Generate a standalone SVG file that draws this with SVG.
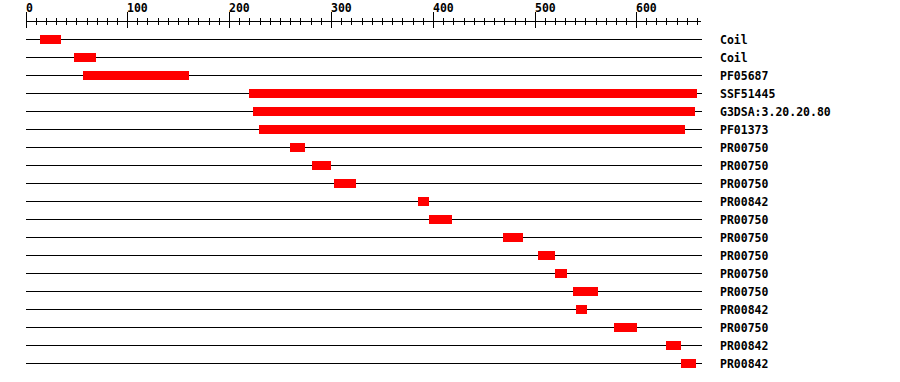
<svg xmlns="http://www.w3.org/2000/svg" width="900" height="382" viewBox="0 0 900 382">
<style>
.ax{stroke:#000;stroke-width:1;fill:none;shape-rendering:crispEdges}
.tr{stroke:#000;stroke-width:1;shape-rendering:crispEdges}
.bar{fill:#ff0000;shape-rendering:crispEdges}
.t{font-family:"DejaVu Sans Mono","Liberation Mono",monospace;font-weight:bold;font-size:11.5px;fill:#000}
</style>
<rect width="900" height="382" fill="#fff"/>
<g id="axis">
<line class="ax" x1="26" y1="21.5" x2="701" y2="21.5"/>
<path class="ax" d="M26.5 12V28M127.5 12V28M229.5 12V28M331.5 12V28M433.5 12V28M535.5 12V28M636.5 12V28"/>
<path class="ax" d="M36.5 18V25M46.5 18V25M56.5 18V25M66.5 18V25M76.5 18V25M87.5 18V25M97.5 18V25M107.5 18V25M117.5 18V25M137.5 18V25M147.5 18V25M158.5 18V25M168.5 18V25M178.5 18V25M188.5 18V25M198.5 18V25M209.5 18V25M219.5 18V25M239.5 18V25M249.5 18V25M260.5 18V25M270.5 18V25M280.5 18V25M290.5 18V25M300.5 18V25M311.5 18V25M321.5 18V25M341.5 18V25M351.5 18V25M362.5 18V25M372.5 18V25M382.5 18V25M392.5 18V25M402.5 18V25M413.5 18V25M423.5 18V25M443.5 18V25M453.5 18V25M464.5 18V25M474.5 18V25M484.5 18V25M494.5 18V25M504.5 18V25M515.5 18V25M525.5 18V25M545.5 18V25M555.5 18V25M565.5 18V25M575.5 18V25M585.5 18V25M596.5 18V25M606.5 18V25M616.5 18V25M626.5 18V25M646.5 18V25M656.5 18V25M666.5 18V25M677.5 18V25M687.5 18V25M697.5 18V25"/>
<text class="t" x="26" y="12">0</text>
<text class="t" x="127" y="12">100</text>
<text class="t" x="229" y="12">200</text>
<text class="t" x="331" y="12">300</text>
<text class="t" x="433" y="12">400</text>
<text class="t" x="535" y="12">500</text>
<text class="t" x="636" y="12">600</text>
</g>
<g id="connectors">
<line class="tr" x1="26" y1="39.5" x2="702" y2="39.5"/>
<line class="tr" x1="26" y1="57.5" x2="702" y2="57.5"/>
<line class="tr" x1="26" y1="75.5" x2="702" y2="75.5"/>
<line class="tr" x1="26" y1="93.5" x2="702" y2="93.5"/>
<line class="tr" x1="26" y1="111.5" x2="702" y2="111.5"/>
<line class="tr" x1="26" y1="129.5" x2="702" y2="129.5"/>
<line class="tr" x1="26" y1="147.5" x2="702" y2="147.5"/>
<line class="tr" x1="26" y1="165.5" x2="702" y2="165.5"/>
<line class="tr" x1="26" y1="183.5" x2="702" y2="183.5"/>
<line class="tr" x1="26" y1="201.5" x2="702" y2="201.5"/>
<line class="tr" x1="26" y1="219.5" x2="702" y2="219.5"/>
<line class="tr" x1="26" y1="237.5" x2="702" y2="237.5"/>
<line class="tr" x1="26" y1="255.5" x2="702" y2="255.5"/>
<line class="tr" x1="26" y1="273.5" x2="702" y2="273.5"/>
<line class="tr" x1="26" y1="291.5" x2="702" y2="291.5"/>
<line class="tr" x1="26" y1="309.5" x2="702" y2="309.5"/>
<line class="tr" x1="26" y1="327.5" x2="702" y2="327.5"/>
<line class="tr" x1="26" y1="345.5" x2="702" y2="345.5"/>
<line class="tr" x1="26" y1="363.5" x2="702" y2="363.5"/>
</g>
<g id="row0"><rect class="bar" x="40" y="35" width="21" height="9"/><text class="t" x="720" y="43.5">Coil</text></g>
<g id="row1"><rect class="bar" x="74" y="53" width="22" height="9"/><text class="t" x="720" y="61.5">Coil</text></g>
<g id="row2"><rect class="bar" x="83" y="71" width="106" height="9"/><text class="t" x="720" y="79.5">PF05687</text></g>
<g id="row3"><rect class="bar" x="249" y="89" width="448" height="9"/><text class="t" x="720" y="97.5">SSF51445</text></g>
<g id="row4"><rect class="bar" x="253" y="107" width="442" height="9"/><text class="t" x="720" y="115.5">G3DSA:3.20.20.80</text></g>
<g id="row5"><rect class="bar" x="259" y="125" width="426" height="9"/><text class="t" x="720" y="133.5">PF01373</text></g>
<g id="row6"><rect class="bar" x="290" y="143" width="15" height="9"/><text class="t" x="720" y="151.5">PR00750</text></g>
<g id="row7"><rect class="bar" x="312" y="161" width="19" height="9"/><text class="t" x="720" y="169.5">PR00750</text></g>
<g id="row8"><rect class="bar" x="334" y="179" width="22" height="9"/><text class="t" x="720" y="187.5">PR00750</text></g>
<g id="row9"><rect class="bar" x="418" y="197" width="11" height="9"/><text class="t" x="720" y="205.5">PR00842</text></g>
<g id="row10"><rect class="bar" x="429" y="215" width="23" height="9"/><text class="t" x="720" y="223.5">PR00750</text></g>
<g id="row11"><rect class="bar" x="503" y="233" width="20" height="9"/><text class="t" x="720" y="241.5">PR00750</text></g>
<g id="row12"><rect class="bar" x="538" y="251" width="17" height="9"/><text class="t" x="720" y="259.5">PR00750</text></g>
<g id="row13"><rect class="bar" x="555" y="269" width="12" height="9"/><text class="t" x="720" y="277.5">PR00750</text></g>
<g id="row14"><rect class="bar" x="573" y="287" width="25" height="9"/><text class="t" x="720" y="295.5">PR00750</text></g>
<g id="row15"><rect class="bar" x="576" y="305" width="11" height="9"/><text class="t" x="720" y="313.5">PR00842</text></g>
<g id="row16"><rect class="bar" x="614" y="323" width="23" height="9"/><text class="t" x="720" y="331.5">PR00750</text></g>
<g id="row17"><rect class="bar" x="666" y="341" width="15" height="9"/><text class="t" x="720" y="349.5">PR00842</text></g>
<g id="row18"><rect class="bar" x="681" y="359" width="15" height="9"/><text class="t" x="720" y="367.5">PR00842</text></g>
</svg>
